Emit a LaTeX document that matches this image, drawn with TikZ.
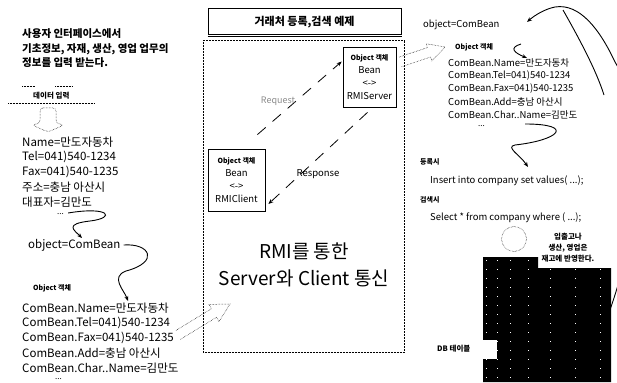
\documentclass[tikz,border=0pt]{standalone}
\usepackage{fontspec}
\setmainfont{Noto Sans CJK KR}
\usetikzlibrary{arrows.meta,calc}
\begin{document}
\begin{tikzpicture}[x=1pt,y=-1pt,
  lt/.style={anchor=west,inner sep=0pt,font=\fontsize{11.5}{13}\selectfont},
  rt/.style={anchor=west,inner sep=0pt,font=\fontsize{9.5}{11}\selectfont},
  hd/.style={anchor=west,inner sep=0pt,font=\bfseries\fontsize{10.5}{12}\selectfont},
  sm/.style={anchor=west,inner sep=0pt,font=\bfseries\fontsize{7}{8}\selectfont},
  dt/.style={densely dotted,line width=0.5pt},
  crv/.style={line width=0.9pt,-{Stealth[length=5pt,width=4pt]}},
  dsh/.style={line width=0.8pt,dash pattern=on 11pt off 9pt,-{Stealth[length=5pt,width=4pt]}},
  rmibox/.style={draw,line width=0.8pt,align=center,inner sep=1pt,font=\fontsize{9.5}{13}\selectfont},
  wdot/.style={white,line width=0.8pt,dash pattern=on 1pt off 8pt}
]
\useasboundingbox (0,0) rectangle (617,382);
\clip (0,0) rectangle (617,382);
\fill[white] (0,0) rectangle (617,382);

% ---------- left column ----------
\node[hd] (h1) at (22,34) {사용자 인터페이스에서};
\node[hd] (h2) at (22,49) {기초정보, 자재, 생산, 영업 업무의};
\node[hd] (h3) at (22,63) {정보를 입력 받는다.};

\node[sm,font=\bfseries\fontsize{7.5}{9}\selectfont] (din) at (33,96) {데이터 입력};
\draw[dt] (8,103) -- (95,103);
\draw[dt] (22,86) -- (35,86) (55,86) -- (72,86);
\draw[dt,rounded corners=3pt] (40,108) -- (56,108) -- (56,123) -- (64,125) -- (48,132) -- (32,125) -- (40,123) -- cycle;

\node[lt] (n1) at (22,142) {Name=만도자동차};
\node[lt] (n2) at (22,157) {Tel=041)540-1234};
\node[lt] (n3) at (22,172) {Fax=041)540-1235};
\node[lt] (n4) at (22,187) {주소=충남 아산시};
\node[lt] (n5) at (22,202) {대표자=김만도};
\node[lt,font=\fontsize{8}{9}\selectfont] (nd) at (57,214) {...};

\node[lt] (ob1) at (28,245) {object=ComBean};
\coordinate (t1) at (82,238);
\coordinate (t2) at (128,301);
\draw[crv] ($(nd.east)+(4,-1)$) .. controls (110,206) and (116,218) .. (90,221) .. controls (64,224) and (74,230) .. (t1);
\draw[crv] ($(ob1.east)+(3,0)$) .. controls (150,243) and (160,262) .. (126,271) .. controls (110,277) and (124,290) .. (t2);

\node[sm] (ol) at (33,288) {Object 객체};
\node[lt] (c1) at (22,308) {ComBean.Name=만도자동차};
\node[lt] (c2) at (22,323) {ComBean.Tel=041)540-1234};
\node[lt] (c3) at (22,338) {ComBean.Fax=041)540-1235};
\node[lt] (c4) at (22,353) {ComBean.Add=충남 아산시};
\node[lt] (c5) at (22,368) {ComBean.Char..Name=김만도};
\node[lt,font=\fontsize{8}{9}\selectfont] (cd) at (55,379) {...};

% hollow dotted arrow to the centre frame
\draw[dt] (180.5,339.3) -- (216.5,317.3) -- (219,321.6) -- (230,304) -- (209,304.4) -- (211.5,308.7) -- (175.5,330.7);

% ---------- centre ----------
\node[draw,dt,minimum width=201pt,minimum height=312pt,inner sep=0pt] (frame) at (303.5,196) {};
\node[draw,line width=1pt,minimum width=193pt,minimum height=26pt,inner sep=0pt,
      font=\bfseries\fontsize{11}{12}\selectfont] (title) at (304.5,22) {거래처 등록,검색 예제};
\draw[line width=1.4pt] ($(title.south west)+(0,1)$) -- ($(title.south east)+(0,1)$);

\node[rmibox,minimum width=53pt,minimum height=60pt] (srv) at (369.5,77)
  {{\bfseries\fontsize{7}{13}\selectfont Object 객체}\\Bean\\<->\\RMIServer};
\node[rmibox,minimum width=57pt,minimum height=62pt] (cli) at (236.5,180)
  {{\bfseries\fontsize{7}{13}\selectfont Object 객체}\\Bean\\<->\\RMIClient};

\draw[dsh] ($(cli.north east)+(-8,-14)$) -- ($(srv.north west)+(-1,15)$);
\draw[dsh] ($(srv.south)+(-2,5)$) -- ($(cli.east)+(3,24)$);
\node[inner sep=0pt,text=black!45,font=\fontsize{9}{10}\selectfont] (req) at (278,101) {Request};
\node[inner sep=0pt,font=\fontsize{9.5}{11}\selectfont] (resp) at (318,174) {Response};

\node[align=center,inner sep=0pt,font=\fontsize{19}{27}\selectfont] (rmi) at (304,265) {RMI를 통한\\Server와 Client 통신};

% hollow dotted arrow towards right column
\draw[dt] (401.6,66.7) -- (430.6,57) -- (431.9,60.9) -- (445,47) -- (426.1,43.7) -- (427.4,47.6) -- (398.4,57.3);

% ---------- right column ----------
\node[rt] (ob2) at (423,25) {object=ComBean};
\node[sm] (orr) at (455,47) {Object 객체};
\node[rt] (r1) at (448,63) {ComBean.Name=만도자동차};
\node[rt] (r2) at (448,76) {ComBean.Tel=041)540-1234};
\node[rt] (r3) at (448,89) {ComBean.Fax=041)540-1235};
\node[rt] (r4) at (448,102) {ComBean.Add=충남 아산시};
\node[rt] (r5) at (448,115) {ComBean.Char..Name=김만도};
\node[rt,font=\fontsize{8}{9}\selectfont] (rd) at (478,126) {...};

\node[sm] (reg) at (420,162) {등록시};
\node[rt] (ins) at (430,181) {Insert into company set values( ...);};
\node[sm] (srch) at (420,200) {검색시};
\node[rt] (sel) at (430,218) {Select * from company where ( ...);};

\coordinate (t3) at (527,58);
\coordinate (t4) at (528,167);
\coordinate (t5) at (527,22);
\draw[crv] (521,44) .. controls (508,48) and (515,53) .. (t3);
\draw[crv] ($(rd.east)+(40,-2)$) .. controls (575,124) and (560,140) .. (515,145) .. controls (505,147) and (520,155) .. (t4);

\draw[dt] (514,239) circle (12.5);

% DB table
\fill[black] (483,257) -- (538,257) -- (538,268) -- (611,268) -- (611,382) -- (483,382) -- cycle;
\coordinate (dbr) at (607,318);
\foreach \xx in {486,497,510,528,550,575,600} \draw[wdot] (\xx,260) -- (\xx,382);
\fill[white] (430,340) rectangle (497,359);
\node[sm,font=\bfseries\fontsize{7.5}{9}\selectfont] (dbl) at (437,349) {DB 테이블};
\node[align=center,inner sep=0pt,font=\bfseries\fontsize{7.5}{11}\selectfont] (note) at (568,248) {입출고나\\생산, 영업은\\재고에 반영한다.};

\draw[crv] (dbr) .. controls (640,230) and (650,120) .. (615,62) .. controls (600,30) and (580,3) .. (555,7) .. controls (545,9) and (535,15) .. (t5);
\draw[line width=0.9pt] (563,10) .. controls (580,40) and (596,70) .. (604,95);
\end{tikzpicture}
\end{document}
